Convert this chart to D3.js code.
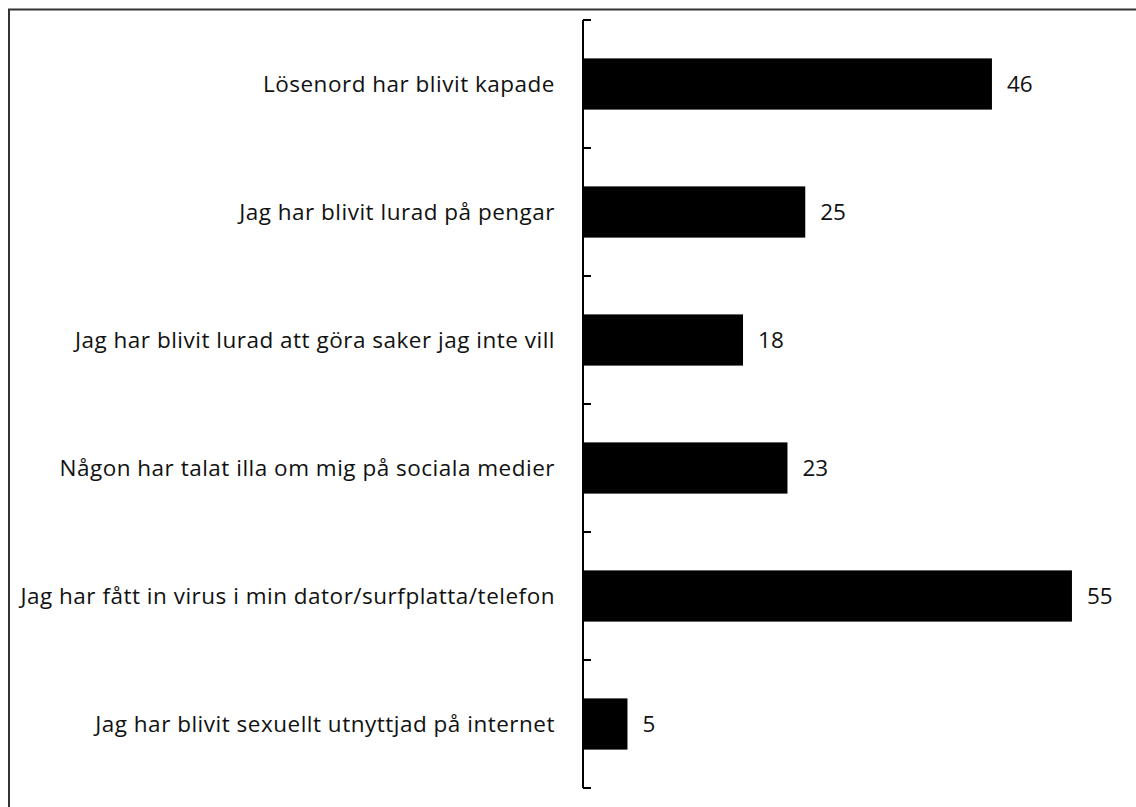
<!DOCTYPE html>
<html>
<head>
<meta charset="utf-8">
<script src="https://cdn.jsdelivr.net/npm/d3@7"></script>
<style>
html,body{margin:0;padding:0;background:#fff;}
svg{display:block;}
text{font-family:"Open Sans", sans-serif;fill:#111;}
</style>
</head>
<body>
<svg id="chart" width="1136" height="807"></svg>
<script>
const categories = [
  "Lösenord har blivit kapade",
  "Jag har blivit lurad på pengar",
  "Jag har blivit lurad att göra saker jag inte vill",
  "Någon har talat illa om mig på sociala medier",
  "Jag har fått in virus i min dator/surfplatta/telefon",
  "Jag har blivit sexuellt utnyttjad på internet"
];
const values = [46, 25, 18, 23, 55, 5];

const svg = d3.select("#chart");

// outer frame (left and top edges visible)
svg.append("path")
  .attr("d", "M9,807 V9.5 H1136")
  .attr("fill", "none")
  .attr("stroke", "#333")
  .attr("stroke-width", 2);

const y = d3.scaleBand()
  .domain(categories)
  .range([20, 788])
  .paddingInner(0.6)
  .paddingOuter(0.3);

const x = d3.scaleLinear()
  .domain([0, 60])
  .range([583, 1116.4]);

// bars
svg.append("g").selectAll("rect")
  .data(categories)
  .join("rect")
  .attr("x", x(0))
  .attr("y", d => y(d))
  .attr("width", (d, i) => x(values[i]) - x(0))
  .attr("height", y.bandwidth())
  .attr("fill", "#000");

// axis line and boundary ticks
const step = y.step();
const boundaries = d3.range(categories.length + 1).map(i => y.range()[0] + i * step);
const axisG = svg.append("g");
axisG.append("line")
  .attr("x1", x(0)).attr("x2", x(0))
  .attr("y1", boundaries[0]).attr("y2", boundaries[boundaries.length - 1])
  .attr("stroke", "#000").attr("stroke-width", 2);
axisG.selectAll("line.tick")
  .data(boundaries)
  .join("line")
  .attr("class", "tick")
  .attr("x1", x(0)).attr("x2", x(0) + 8)
  .attr("y1", d => d).attr("y2", d => d)
  .attr("stroke", "#000").attr("stroke-width", 2);

// category labels
svg.append("g").selectAll("text")
  .data(categories)
  .join("text")
  .attr("x", 555)
  .attr("y", d => y(d) + y.bandwidth() / 2)
  .attr("dy", "0.35em")
  .attr("text-anchor", "end")
  .attr("font-size", 22.5)
  .attr("letter-spacing", 0.5)
  .text(d => d);

// value labels
svg.append("g").selectAll("text")
  .data(categories)
  .join("text")
  .attr("x", (d, i) => x(values[i]) + 15)
  .attr("y", d => y(d) + y.bandwidth() / 2)
  .attr("dy", "0.35em")
  .attr("font-size", 22.5)
  .text((d, i) => values[i]);
</script>
</body>
</html>
